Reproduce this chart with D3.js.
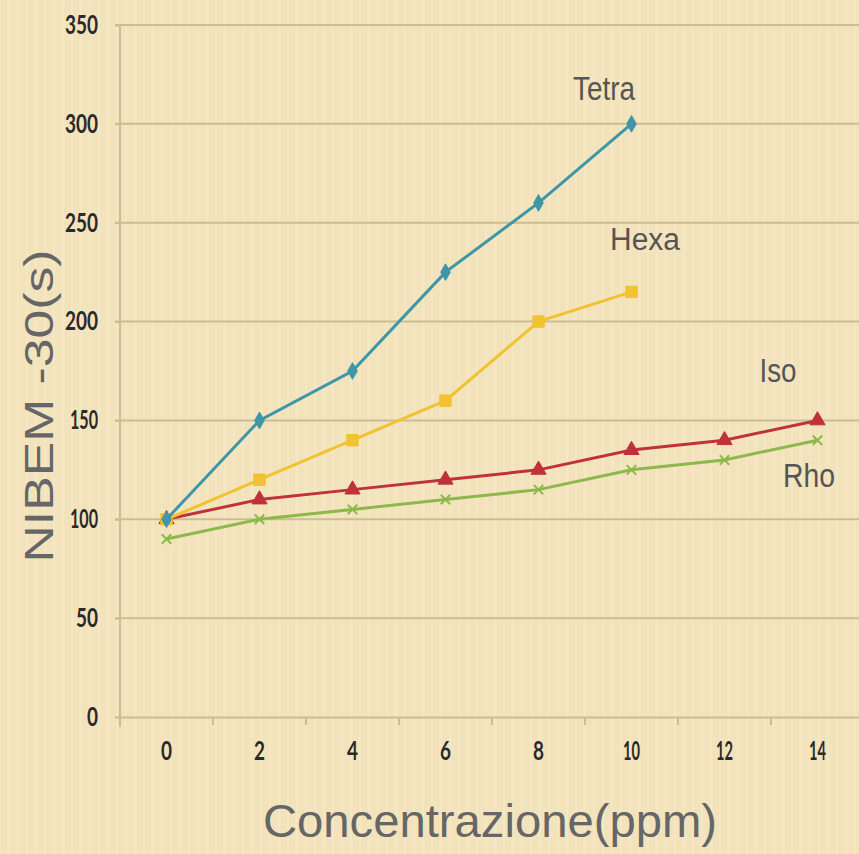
<!DOCTYPE html>
<html><head><meta charset="utf-8">
<script src="https://cdn.jsdelivr.net/npm/d3@7"></script>
<style>html,body{margin:0;padding:0;background:#F3E3BC;}svg{display:block;}</style>
</head><body>
<script>
const categories = [0, 2, 4, 6, 8, 10, 12, 14];
const yTicks = [0, 50, 100, 150, 200, 250, 300, 350];
const tetra = [100, 150, 175, 225, 260, 300];
const hexa = [100, 120, 140, 160, 200, 215];
const iso = [100, 110, 115, 120, 125, 135, 140, 150];
const rho = [90, 100, 105, 110, 115, 125, 130, 140];
const seriesNames = ["Tetra", "Hexa", "Iso", "Rho"];

(function () {
const W = 859, H = 854;
const svg = d3.select("body").append("svg").attr("width", W).attr("height", H);
svg.append("rect").attr("width", W).attr("height", H).attr("fill", "#F3E3BC");
const stripes = svg.append("g").attr("opacity", 0.25);
for (let i = 0; i < W; i += 9) {
  stripes.append("line").attr("x1", i).attr("x2", i).attr("y1", 0).attr("y2", H)
    .attr("stroke", "#FFF5DA").attr("stroke-width", 2);
}

const mLeft = 120, mRight = 864, mTop = 25, mBottom = 717;
const x = d3.scaleBand().domain(categories).range([mLeft, mRight]);
const y = d3.scaleLinear().domain([0, 350]).range([mBottom, mTop]);

svg.append("g").selectAll("line").data(yTicks.filter(d => d > 0)).join("line")
  .attr("x1", mLeft - 5).attr("x2", mRight).attr("y1", d => y(d)).attr("y2", d => y(d))
  .attr("stroke", "#CDBD93").attr("stroke-width", 2);

const tickLen = s => String(s).split("").reduce((a, c) => a + (c === "1" ? 6 : 11), 0);

const yAxis = svg.append("g").attr("transform", `translate(${mLeft},0)`)
  .call(d3.axisLeft(y).tickValues(yTicks).tickSize(5).tickPadding(17));
yAxis.select(".domain").attr("stroke", "#CDBD93").attr("stroke-width", 2).attr("d", `M0,${mTop}V${mBottom + 10}`);
yAxis.selectAll(".tick line").attr("stroke", "#CDBD93").attr("stroke-width", 2);
yAxis.selectAll("text").attr("font-family", "Lato").attr("font-weight", "bold")
  .attr("font-size", 26).attr("fill", "#2a2a2a")
  .attr("textLength", d => tickLen(d)).attr("lengthAdjust", "spacingAndGlyphs");

const xAxis = svg.append("g").attr("transform", `translate(0,${mBottom})`)
  .call(d3.axisBottom(x).tickSizeOuter(0).tickSize(0).tickPadding(25));
xAxis.select(".domain").attr("stroke", "#CDBD93").attr("stroke-width", 2);
xAxis.selectAll("text").attr("font-family", "Lato").attr("font-weight", "bold")
  .attr("font-size", 26).attr("fill", "#2a2a2a")
  .attr("textLength", d => tickLen(d)).attr("lengthAdjust", "spacingAndGlyphs");
svg.append("g").selectAll("line").data(categories.slice(1)).join("line")
  .attr("x1", d => x(d)).attr("x2", d => x(d)).attr("y1", mBottom).attr("y2", mBottom + 8)
  .attr("stroke", "#CDBD93").attr("stroke-width", 2);

const cx = (i) => x(categories[i]) + x.bandwidth() / 2;
const line = d3.line().x((d, i) => cx(i)).y(d => y(d));

const defs = [
  {data: tetra, color: "#3E97A7", sym: d3.symbolDiamond, size: 80},
  {data: hexa, color: "#F1C232", sym: d3.symbolSquare, size: 130},
  {data: iso, color: "#C0313B", sym: d3.symbolTriangle, size: 100},
  {data: rho, color: "#8DB84A", sym: d3.symbolX, size: 60},
];
[3, 2, 1, 0].forEach(k => {
  const s = defs[k];
  svg.append("path").datum(s.data).attr("d", line).attr("fill", "none")
    .attr("stroke", s.color).attr("stroke-width", 3);
  svg.append("g").selectAll("path").data(s.data).join("path")
    .attr("transform", (d, i) => `translate(${cx(i)},${y(d)})`)
    .attr("d", d3.symbol().type(s.sym).size(s.size))
    .attr("fill", s.sym === d3.symbolX ? "none" : s.color)
    .attr("stroke", s.color).attr("stroke-width", s.sym === d3.symbolX ? 2 : 1);
});

const labelPos = [[604, 100, 34, 62], [645, 250, 31, 70], [778, 382, 34, 37], [809, 487, 34, 52]];
seriesNames.forEach((n, i) => {
  const p = labelPos[i];
  svg.append("text").attr("x", p[0]).attr("y", p[1])
    .attr("text-anchor", "middle").attr("font-family", "Liberation Sans")
    .attr("font-size", p[2]).attr("fill", "#555")
    .attr("textLength", p[3]).attr("lengthAdjust", "spacingAndGlyphs").text(n);
});

svg.append("text").attr("transform", "translate(53,406) rotate(-90)")
  .attr("text-anchor", "middle").attr("font-family", "Liberation Sans")
  .attr("font-size", 40).attr("fill", "#666")
  .attr("textLength", 313).attr("lengthAdjust", "spacingAndGlyphs").text("NIBEM -30(s)");
svg.append("text").attr("x", 490).attr("y", 837)
  .attr("text-anchor", "middle").attr("font-family", "Liberation Sans")
  .attr("font-size", 47).attr("fill", "#666")
  .attr("textLength", 454).attr("lengthAdjust", "spacingAndGlyphs").text("Concentrazione(ppm)");
})();
</script>
</body></html>
